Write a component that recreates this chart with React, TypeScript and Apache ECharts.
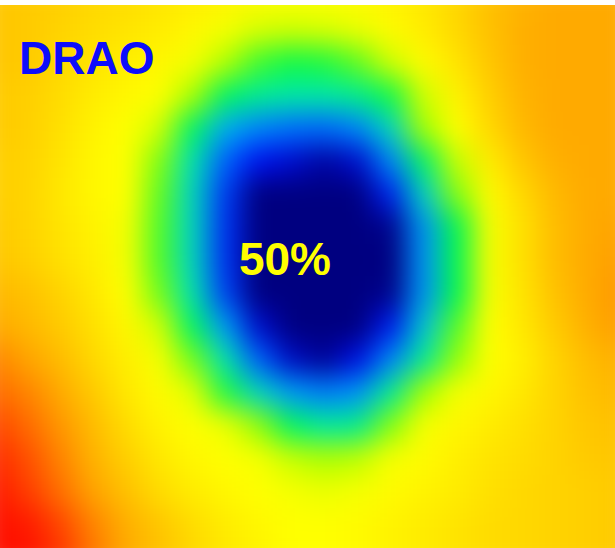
import React, { useEffect, useRef } from "react";
import * as echarts from "echarts";

// Colour ramp of the map: navy core through blue, cyan, green, yellow, orange to red.
const rampColors = [
  "#000080", "#0010f0", "#0060ff", "#00a8f8", "#00e8a8", "#00f850",
  "#a0ff00", "#ffff00", "#ffd800", "#ffaa00", "#ff6a00", "#ff1000",
];
const rampMin = 0;
const rampMax = 11;

// Sampled field, one array per row (top to bottom), 20 samples per row (left to right).
const row00 = [8.4, 8.3, 8.2, 8.0, 7.9, 7.7, 7.5, 7.3, 7.1, 7.0, 7.0, 7.1, 7.3, 7.6, 8.0, 8.5, 8.8, 9.0, 9.0, 9.0];
const row01 = [8.4, 8.3, 8.1, 7.9, 7.7, 7.5, 7.2, 6.9, 6.6, 6.5, 6.6, 6.8, 7.1, 7.5, 8.0, 8.5, 8.9, 9.0, 9.0, 9.0];
const row02 = [8.4, 8.3, 8.0, 7.7, 7.4, 7.2, 6.9, 6.2, 5.4, 5.1, 5.2, 5.6, 6.5, 7.1, 7.7, 8.4, 8.9, 9.0, 9.0, 9.0];
const row03 = [8.3, 8.2, 7.9, 7.5, 7.2, 7.0, 6.1, 4.8, 4.2, 4.0, 4.0, 4.3, 5.1, 6.5, 7.3, 8.2, 8.8, 9.0, 9.0, 9.0];
const row04 = [8.3, 8.2, 7.8, 7.3, 7.0, 6.5, 4.8, 3.1, 2.5, 2.2, 2.1, 2.5, 3.7, 6.0, 7.0, 8.0, 8.7, 9.0, 9.0, 9.0];
const row05 = [8.2, 8.1, 7.7, 7.2, 7.0, 5.8, 3.9, 2.0, 1.0, 0.7, 0.3, 0.7, 2.5, 4.7, 6.4, 7.5, 8.4, 8.9, 9.0, 9.0];
const row06 = [8.2, 8.1, 7.6, 7.2, 7.0, 5.6, 3.7, 1.5, 0.0, 0.0, 0.0, 0.0, 1.2, 3.6, 5.8, 7.1, 8.0, 8.7, 9.0, 9.0];
const row07 = [8.3, 8.1, 7.7, 7.3, 6.9, 5.5, 3.7, 1.4, 0.0, 0.0, 0.0, 0.0, 0.1, 2.7, 5.0, 6.9, 7.8, 8.6, 9.0, 9.1];
const row08 = [8.4, 8.2, 7.8, 7.4, 6.9, 5.5, 3.7, 1.4, 0.0, 0.0, 0.0, 0.0, 0.0, 2.7, 5.0, 6.9, 7.8, 8.6, 9.0, 9.2];
const row09 = [8.7, 8.5, 8.1, 7.6, 7.0, 5.7, 3.9, 1.6, 0.0, 0.0, 0.0, 0.0, 0.1, 2.7, 5.0, 6.9, 7.7, 8.5, 9.0, 9.3];
const row10 = [9.0, 8.7, 8.3, 7.8, 7.2, 6.5, 4.8, 2.8, 0.7, 0.0, 0.0, 0.0, 1.1, 3.4, 5.5, 7.0, 7.6, 8.3, 8.9, 9.2];
const row11 = [9.6, 9.1, 8.6, 8.0, 7.4, 6.9, 5.7, 3.9, 2.0, 0.6, 0.2, 0.9, 2.5, 4.2, 5.9, 7.0, 7.4, 8.1, 8.6, 8.9];
const row12 = [10.0, 9.6, 9.0, 8.3, 7.6, 7.1, 6.7, 5.2, 3.7, 2.8, 2.4, 2.7, 4.2, 6.0, 6.9, 7.2, 7.6, 8.1, 8.5, 8.7];
const row13 = [10.4, 10.0, 9.3, 8.6, 7.9, 7.3, 7.0, 6.8, 5.9, 4.8, 4.1, 4.3, 5.8, 6.9, 7.2, 7.5, 7.8, 8.1, 8.4, 8.5];
const row14 = [10.7, 10.3, 9.6, 8.8, 8.2, 7.6, 7.2, 7.0, 6.9, 6.4, 6.1, 6.3, 6.9, 7.1, 7.4, 7.7, 7.9, 8.1, 8.3, 8.4];
const row15 = [10.9, 10.5, 9.9, 9.1, 8.5, 7.9, 7.5, 7.2, 7.0, 6.9, 6.8, 6.9, 7.1, 7.3, 7.5, 7.8, 8.0, 8.1, 8.2, 8.3];
const row16 = [11.0, 10.9, 10.4, 9.6, 8.9, 8.4, 7.9, 7.5, 7.2, 7.0, 7.0, 7.1, 7.3, 7.5, 7.7, 7.9, 8.0, 8.1, 8.2, 8.3];
const row17 = [11.0, 11.0, 10.6, 9.8, 9.0, 8.5, 8.0, 7.6, 7.3, 7.0, 7.0, 7.1, 7.3, 7.5, 7.7, 7.9, 8.0, 8.1, 8.2, 8.3];

const fieldRows = [
  row00, row01, row02, row03, row04, row05, row06, row07, row08,
  row09, row10, row11, row12, row13, row14, row15, row16, row17,
];

// Labels on the map.
const stationLabel = "DRAO";
const levelLabel = "50%";

const W = 615;
const H = 548;
const TOP = 5;
const FIELD_H = H - TOP;
// The map layer is drawn a little larger than the visible area so the
// smoothing does not fade at the edges.
const PAD_L = 22;
const PAD_T = 25;
const MAP_W = 660;
const MAP_H = 594;

export default function App() {
  const mapRef = useRef<HTMLDivElement>(null);
  const labelRef = useRef<HTMLDivElement>(null);

  useEffect(() => {
    if (!mapRef.current || !labelRef.current) return;
    const mapChart = echarts.init(mapRef.current, null, { renderer: "svg" });
    const labelChart = echarts.init(labelRef.current, null, { renderer: "svg" });

    const cols = fieldRows[0].map((_, i) => String(i));
    const rows = fieldRows.map((_, j) => String(j));
    const data: number[][] = [];
    fieldRows.forEach((row, j) => row.forEach((v, i) => data.push([i, j, v])));

    mapChart.setOption({
      animation: false,
      grid: { left: 0, right: 0, top: 0, bottom: 0 },
      xAxis: { type: "category", data: cols, show: false },
      yAxis: { type: "category", data: rows, inverse: true, show: false },
      visualMap: {
        show: false,
        type: "continuous",
        min: rampMin,
        max: rampMax,
        dimension: 2,
        inRange: { color: rampColors },
      },
      series: [
        {
          type: "heatmap",
          data,
          itemStyle: { borderWidth: 0 },
          emphasis: { disabled: true },
        },
      ],
    });

    labelChart.setOption({
      animation: false,
      graphic: [
        {
          type: "text",
          style: {
            x: 19,
            y: 58,
            text: stationLabel,
            fill: "#0d0dfb",
            font: 'bold 46px "Liberation Sans", Arial, sans-serif',
            align: "left",
            verticalAlign: "middle",
          },
        },
        {
          type: "text",
          style: {
            x: 285,
            y: 259,
            text: levelLabel,
            fill: "#ffff00",
            font: 'bold 46px "Liberation Sans", Arial, sans-serif',
            align: "center",
            verticalAlign: "middle",
          },
        },
      ],
    });

    return () => {
      mapChart.dispose();
      labelChart.dispose();
    };
  }, []);

  return (
    <div
      style={{
        position: "fixed",
        left: 0,
        top: 0,
        width: W,
        height: H,
        background: "#ffffff",
        overflow: "hidden",
      }}
    >
      <div
        style={{
          position: "absolute",
          left: 0,
          top: TOP,
          width: W,
          height: FIELD_H,
          overflow: "hidden",
        }}
      >
        <div
          ref={mapRef}
          style={{
            position: "absolute",
            left: -PAD_L,
            top: -PAD_T,
            width: MAP_W,
            height: MAP_H,
            filter: "blur(14px)",
          }}
        />
      </div>
      <div
        ref={labelRef}
        style={{ position: "absolute", left: 0, top: 0, width: W, height: H }}
      />
    </div>
  );
}
